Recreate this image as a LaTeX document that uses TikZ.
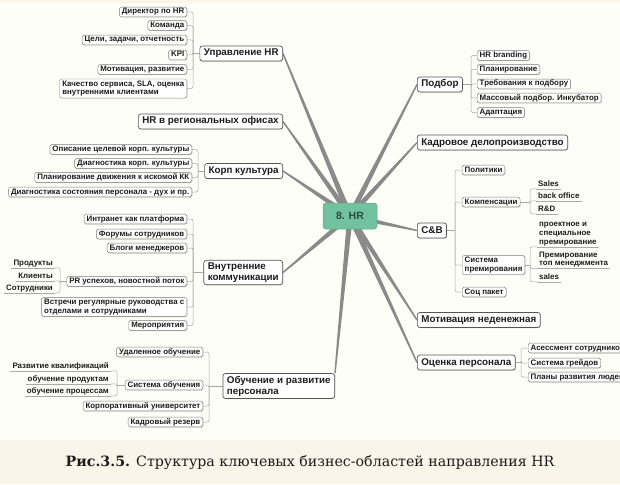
\documentclass[tikz,border=0pt]{standalone}
\usepackage{fontspec}
\setmainfont{Liberation Sans}
\newfontfamily\capfont{DejaVu Serif}
\usetikzlibrary{calc,shadows}
\pgfdeclarelayer{back}
\pgfdeclarelayer{bg}
\pgfsetlayers{back,bg,main}
\definecolor{bgwhite}{HTML}{FEFEF8}
\definecolor{beige}{HTML}{FBF4E8}
\definecolor{boxc}{HTML}{7A7A7A}
\definecolor{brc}{HTML}{555555}
\definecolor{txtc}{HTML}{1C1C1C}
\definecolor{mainln}{HTML}{8A8A8A}
\definecolor{subln}{HTML}{A8A8A8}
\definecolor{ulc}{HTML}{AAAAAA}
\definecolor{hrgreen}{HTML}{72C29F}
\definecolor{hrtext}{HTML}{2C4C3E}
\newcommand\mysmf{\fontsize{7.9}{8.8}\selectfont\bfseries}
\newcommand\mybrf{\fontsize{9.8}{11}\selectfont\bfseries}
\newcommand\hrbranch[2]{\fill[mainln] ($(#1)!2.8pt!90:(#2)$) -- ($(#2)!0.7pt!-90:(#1)$) -- ($(#2)!0.7pt!90:(#1)$) -- ($(#1)!2.8pt!-90:(#2)$) -- cycle;}
\tikzset{
  boxbase/.style={draw=boxc, fill=white, line width=0.45pt, text=txtc,
    drop shadow={shadow xshift=0.5pt, shadow yshift=-0.7pt, fill=black, opacity=0.18}},
  sm/.style={boxbase, rounded corners=1.6pt, inner xsep=2.5pt, inner ysep=1.0pt,
    font=\mysmf, text height=5.8pt, text depth=1.8pt},
  smm/.style={boxbase, rounded corners=1.6pt, inner xsep=2.5pt, inner ysep=1.5pt,
    font=\mysmf, align=left},
  br/.style={boxbase, draw=brc, line width=0.7pt, rounded corners=2.5pt, inner xsep=4pt,
    inner ysep=2.8pt, font=\mybrf, text height=7.2pt, text depth=2.2pt},
  brm/.style={boxbase, draw=brc, line width=0.7pt, rounded corners=2.5pt, inner xsep=4pt,
    inner ysep=2.3pt, font=\mybrf, align=left},
  lf/.style={inner xsep=2pt, inner ysep=1pt, font=\mysmf, text=txtc, text height=5.6pt, text depth=1.6pt},
  lfm/.style={inner xsep=2pt, inner ysep=1pt, font=\mysmf, text=txtc, align=left},
  hrc/.style={fill=hrgreen, draw=hrgreen!85!black, line width=0.5pt, rounded corners=3pt,
    minimum width=54pt, minimum height=26pt, text=hrtext, font=\fontsize{10.5}{12}\selectfont\bfseries},
  subc/.style={draw=subln, line width=0.5pt, rounded corners=2pt},
  uline/.style={draw=ulc, line width=0.5pt},
}
\begin{document}
\begin{tikzpicture}[x=1pt,y=-1pt]
\begin{pgfonlayer}{back}
  \fill[bgwhite] (0,0) rectangle (620,484);
  \fill[beige] (0,0) rectangle (620,3);
  \fill[beige] (0,440) rectangle (620,484);
\end{pgfonlayer}
\useasboundingbox (0,0) rectangle (620,484);
\begin{scope}
\clip (0,0) rectangle (620,484);
% centre
\node[hrc] (hr) at (350,216) {8. HR};
% Управление HR
\node[br, anchor=east] (uhr) at (283,53.5) {Управление HR};
\node[sm, anchor=east] (u1) at (187,12) {Директор по HR};
\node[sm, anchor=east] (u2) at (187,25.5) {Команда};
\node[sm, anchor=east] (u3) at (187,40) {Цели, задачи, отчетность};
\node[sm, anchor=east] (u4) at (187,55) {KPI};
\node[sm, anchor=east] (u5) at (187,69.5) {Мотивация, развитие};
\node[smm, anchor=east] (u6) at (187,88.5) {Качество сервиса, SLA, оценка\\внутренними клиентами};
% HR в регионах
\node[br, anchor=east] (reg) at (283,121.5) {HR в региональных офисах};
% Корп культура
\node[br, anchor=east] (korp) at (283,171) {Корп культура};
\node[sm, anchor=east] (k1) at (192,149.5) {Описание целевой корп. культуры};
\node[sm, anchor=east] (k2) at (192,163.5) {Диагностика корп. культуры};
\node[sm, anchor=east] (k3) at (192,177.5) {Планирование движения к искомой КК};
\node[sm, anchor=east] (k4) at (192,192) {Диагностика состояния персонала - дух и пр.};
% Внутренние коммуникации
\node[brm, anchor=east] (vk) at (283,272.5) {Внутренние\\коммуникации};
\node[sm, anchor=east] (v1) at (187,219) {Интранет как платформа};
\node[sm, anchor=east] (v2) at (187,234) {Форумы сотрудников};
\node[sm, anchor=east] (v3) at (187,248) {Блоги менеджеров};
\node[sm, anchor=east] (v4) at (187,281.5) {PR успехов, новостной поток};
\node[smm, anchor=east] (v5) at (187,307) {Встречи регулярные руководства с\\отделами и сотрудниками};
\node[sm, anchor=east] (v6) at (187,325.5) {Мероприятия};
\node[lf, anchor=east] (p1) at (55,263) {Продукты};
\node[lf, anchor=east] (p2) at (55,276) {Клиенты};
\node[lf, anchor=east] (p3) at (55,288) {Сотрудники};
% Обучение
\node[brm, anchor=east] (ob) at (335,386) {Обучение и развитие\\персонала};
\node[sm, anchor=east] (o1) at (203,352) {Удаленное обучение};
\node[sm, anchor=east] (o2) at (203,385) {Система обучения};
\node[sm, anchor=east] (o3) at (203,406) {Корпоративный университет};
\node[sm, anchor=east] (o4) at (203,422) {Кадровый резерв};
\node[lf, anchor=east] (q1) at (111,366) {Развитие квалификаций};
\node[lf, anchor=east] (q2) at (111,379) {обучение продуктам};
\node[lf, anchor=east] (q3) at (111,391) {обучение процессам};
% Подбор
\node[br, anchor=west] (pb) at (417,84.5) {Подбор};
\node[sm, anchor=west] (b1) at (477,55.5) {HR branding};
\node[sm, anchor=west] (b2) at (477,69.5) {Планирование};
\node[sm, anchor=west] (b3) at (477,84) {Требования к подбору};
\node[sm, anchor=west] (b4) at (477,98) {Массовый подбор. Инкубатор};
\node[sm, anchor=west] (b5) at (477,112.5) {Адаптация};
% Кадровое
\node[br, anchor=west] (kd) at (417,142.5) {Кадровое делопроизводство};
% C&B
\node[br, anchor=west] (cb) at (417,230.5) {C\&B};
\node[sm, anchor=west] (c1) at (462,170) {Политики};
\node[sm, anchor=west] (c2) at (462,202) {Компенсации};
\node[smm, anchor=west] (c3) at (462,265) {Система\\премирования};
\node[sm, anchor=west] (c4) at (462,292) {Соц пакет};
\node[lf, anchor=west] (r1) at (536,184) {Sales};
\node[lf, anchor=west] (r2) at (536,196) {back office};
\node[lf, anchor=west] (r3) at (536,209) {R\&D};
\node[lfm, anchor=west] (t1) at (537,234) {проектное и\\специальное\\премирование};
\node[lfm, anchor=west] (t2) at (537,259.5) {Премирование\\топ менеджмента};
\node[lf, anchor=west] (t3) at (537,277) {sales};
% Мотивация, Оценка
\node[br, anchor=west] (mt) at (417,320) {Мотивация неденежная};
\node[br, anchor=west] (oc) at (417,362.5) {Оценка персонала};
\node[sm, anchor=west] (e1) at (528,348) {Асессмент сотрудников};
\node[sm, anchor=west] (e2) at (528,363) {Система грейдов};
\node[sm, anchor=west] (e3) at (528,377) {Планы развития людей};
\end{scope}
% caption
\node[font=\capfont\fontsize{14.2}{16}\selectfont, text=txtc] (cap) at (310,463)
  {\textbf{Рис.3.5.} Структура ключевых бизнес-областей направления HR};
% spine coordinates
\coordinate (su) at (193,53.5);
\coordinate (sk) at (198,171);
\coordinate (sv) at (193,272.5);
\coordinate (sp) at (60,281.5);
\coordinate (so) at (209,386);
\coordinate (sq) at (117,385);
\coordinate (sb) at (471,84.5);
\coordinate (sc) at (455,230.5);
\coordinate (sr) at (530,202);
\coordinate (st) at (530,265);
\coordinate (se) at (521,362.5);
\begin{pgfonlayer}{bg}
  % main branches
  \hrbranch{hr.center}{uhr.east}
  \hrbranch{hr.center}{reg.east}
  \hrbranch{hr.center}{korp.east}
  \hrbranch{hr.center}{vk.east}
  \hrbranch{hr.center}{ob.north east}
  \hrbranch{hr.center}{pb.west}
  \hrbranch{hr.center}{kd.west}
  \hrbranch{hr.center}{cb.west}
  \hrbranch{hr.center}{mt.west}
  \hrbranch{hr.center}{oc.west}
  % sub connectors
  \draw[subc] (uhr.west) -- (su);
  \foreach \n in {u1,u2,u3,u4,u5,u6} \draw[subc] (su) |- (\n.east);
  \draw[subc] (korp.west) -- (sk);
  \foreach \n in {k1,k2,k3,k4} \draw[subc] (sk) |- (\n.east);
  \draw[subc] (vk.west) -- (sv);
  \foreach \n in {v1,v2,v3,v4,v5,v6} \draw[subc] (sv) |- (\n.east);
  \draw[subc] (v4.west) -- (sp);
  \foreach \n in {p1,p2,p3} {\draw[subc] (sp) |- (\n.south east); \draw[uline] (\n.south west) -- (\n.south east);}
  \draw[subc] (ob.west) -- (so);
  \foreach \n in {o1,o2,o3,o4} \draw[subc] (so) |- (\n.east);
  \draw[subc] (o2.west) -- (sq);
  \foreach \n in {q1,q2,q3} {\draw[subc] (sq) |- (\n.south east); \draw[uline] (\n.south west) -- (\n.south east);}
  \draw[subc] (pb.east) -- (sb);
  \foreach \n in {b1,b2,b3,b4,b5} \draw[subc] (sb) |- (\n.west);
  \draw[subc] (cb.east) -- (sc);
  \foreach \n in {c1,c2,c3,c4} \draw[subc] (sc) |- (\n.west);
  \draw[subc] (c2.east) -- (sr);
  \foreach \n in {r1,r2,r3} {\draw[subc] (sr) |- (\n.south west); \draw[uline] (\n.south west) -- (\n.south east);}
  \draw[subc] (c3.east) -- (st);
  \foreach \n in {t1,t2,t3} {\draw[subc] (st) |- (\n.south west); \draw[uline] (\n.south west) -- (\n.south east);}
  \draw[subc] (oc.east) -- (se);
  \foreach \n in {e1,e2,e3} \draw[subc] (se) |- (\n.west);
\end{pgfonlayer}
\end{tikzpicture}
\end{document}
